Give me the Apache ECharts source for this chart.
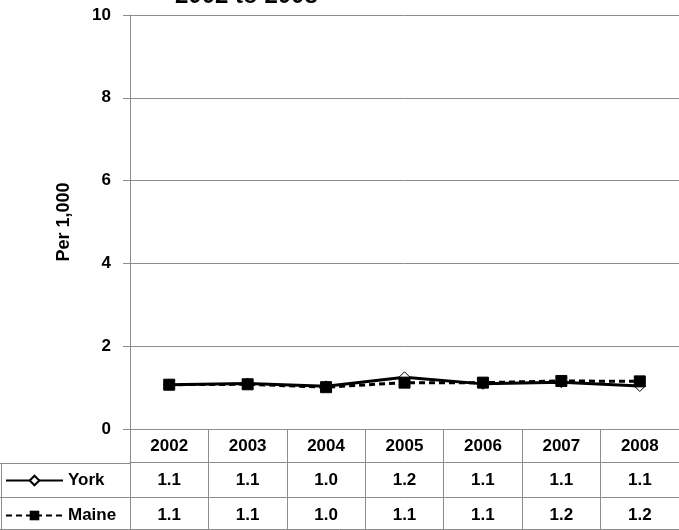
<!DOCTYPE html>
<html><head><meta charset="utf-8">
<script src="https://cdn.jsdelivr.net/npm/echarts@6/dist/echarts.min.js"></script>
<style>html,body{margin:0;padding:0;background:#fff}#c{width:679px;height:530px}</style>
</head><body><div id="c"></div>
<script>
const years = ['2002','2003','2004','2005','2006','2007','2008'];
const york = [1.07, 1.10, 1.03, 1.25, 1.09, 1.13, 1.04];
const maine = [1.07, 1.08, 1.01, 1.12, 1.12, 1.16, 1.15];
const yorkTable = ['1.1','1.1','1.0','1.2','1.1','1.1','1.1'];
const maineTable = ['1.1','1.1','1.0','1.1','1.1','1.2','1.2'];
const yTicks = [0, 2, 4, 6, 8, 10];

const FF = "'Liberation Sans', Arial, sans-serif";
const GRAY = '#8c8c8c';
const chart = echarts.init(document.getElementById('c'));
const lbl = {fontFamily: FF, fontWeight: 'bold', fontSize: 17, color: '#000'};
const legendText = {fontFamily: FF, fontWeight: 'bold', fontSize: 17, color: '#000'};
chart.setOption({
  animation: false,
  title: {text: '2002 to 2008', left: 170, top: -21, textStyle: {fontFamily: FF, fontWeight: 'bold', fontSize: 24, color: '#000'}},
  grid: {left: 130, right: 0, top: 15, bottom: 101, containLabel: false},
  legend: [
    {left: 5, top: 472, padding: 0, itemWidth: 57, itemHeight: 12, itemGap: 4, selectedMode: false,
     textStyle: legendText, data: ['York']},
    {left: 5, top: 507, padding: 0, itemWidth: 57, itemHeight: 12, itemGap: 4, selectedMode: false,
     textStyle: legendText, data: ['Maine']}
  ],
  xAxis: [
    {type: 'category', data: years, position: 'bottom', boundaryGap: true,
     axisLine: {lineStyle: {color: GRAY, width: 1}},
     axisTick: {show: true, length: 101, interval: 0, lineStyle: {color: GRAY}},
     axisLabel: Object.assign({margin: 9, interval: 0}, lbl), splitLine: {show: false}},
    {type: 'category', data: yorkTable, position: 'bottom', offset: 33, boundaryGap: true,
     axisLine: {lineStyle: {color: GRAY}}, axisTick: {show: false},
     axisLabel: Object.assign({margin: 10, interval: 0}, lbl)},
    {type: 'category', data: maineTable, position: 'bottom', offset: 68, boundaryGap: true,
     axisLine: {lineStyle: {color: GRAY}}, axisTick: {show: false},
     axisLabel: Object.assign({margin: 10, interval: 0}, lbl)}
  ],
  yAxis: {
    type: 'value', min: yTicks[0], max: yTicks[yTicks.length - 1], interval: 2,
    name: 'Per 1,000', nameLocation: 'middle', nameGap: 57, nameRotate: 90,
    nameTextStyle: {fontFamily: FF, fontWeight: 'bold', fontSize: 18, color: '#000'},
    axisLine: {show: true, lineStyle: {color: GRAY}},
    axisTick: {show: true, length: 7, lineStyle: {color: GRAY}},
    axisLabel: Object.assign({margin: 19}, lbl),
    splitLine: {show: true, lineStyle: {color: GRAY, width: 1}}
  },
  graphic: [
    {type: 'line', shape: {x1: 0, y1: 463.5, x2: 130, y2: 463.5}, style: {stroke: GRAY, lineWidth: 1}},
    {type: 'line', shape: {x1: 0, y1: 497.5, x2: 130, y2: 497.5}, style: {stroke: GRAY, lineWidth: 1}},
    {type: 'line', shape: {x1: 0, y1: 529.5, x2: 679, y2: 529.5}, style: {stroke: GRAY, lineWidth: 1}},
    {type: 'line', shape: {x1: 1.5, y1: 463, x2: 1.5, y2: 530}, style: {stroke: GRAY, lineWidth: 1}}
  ],
  series: [
    {name: 'York', type: 'line', data: york, xAxisIndex: 0,
     symbol: 'diamond', symbolSize: 11, showAllSymbol: true,
     lineStyle: {color: '#000', width: 3, type: 'solid'},
     itemStyle: {color: '#fff', borderColor: '#000', borderWidth: 1}},
    {name: 'Maine', type: 'line', data: maine, xAxisIndex: 0,
     symbol: 'rect', symbolSize: 11, showAllSymbol: true,
     lineStyle: {color: '#000', width: 3, type: [6, 4]},
     itemStyle: {color: '#000', borderColor: '#000'}}
  ]
});
</script></body></html>
